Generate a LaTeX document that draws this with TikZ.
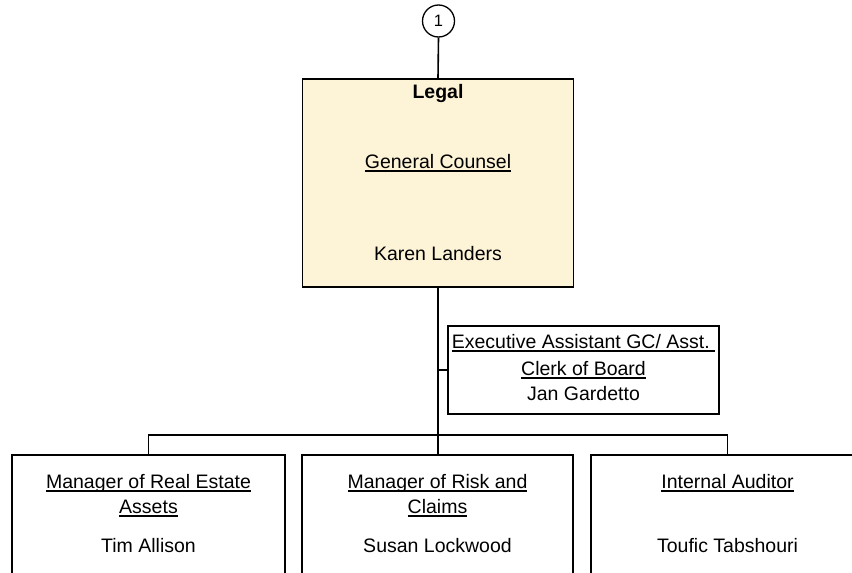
\documentclass[tikz,border=0pt]{standalone}
\usepackage{fontspec}
\setmainfont{Liberation Sans}
% underline at a fixed depth below the baseline
\newcommand\ulbox[1]{\setbox0\hbox{#1}\rlap{\rule[-3.6pt]{\wd0}{1.2pt}}\box0}
\definecolor{legalfill}{RGB}{253,243,214}
\tikzset{
  box/.style={draw=black, line width=1.6pt, rectangle, inner sep=0pt},
  wire/.style={draw=black, line width=1.6pt},
  txt/.style={anchor=base, inner sep=0pt, font=\fontsize{19.5}{23}\selectfont},
}
\begin{document}
\begin{tikzpicture}[x=1pt, y=-1pt]
\useasboundingbox (0,0) rectangle (852,573);
\clip (0,0) rectangle (852,573);
\fill[white] (0,0) rectangle (852,573);

% off-page connector
\node[draw=black, line width=1.3pt, circle, minimum size=32pt, inner sep=0pt,
      font=\fontsize{16.5}{18}\selectfont] (conn) at (438.5,21) {1};

% Legal department box
\node[box, fill=legalfill, minimum width=271pt, minimum height=208pt] (legal) at (438,183) {};
\node[txt, font=\fontsize{19.5}{23}\selectfont\bfseries] (legalt) at (438,98) {Legal};
\node[txt] (gc) at (438,168) {\ulbox{General Counsel}};
\node[txt] (kl) at (438,260) {Karen Landers};

% executive assistant box
\node[box, fill=white, minimum width=271pt, minimum height=88pt] (ea) at (583.5,370) {};
\node[txt] (ea1) at (583.5,348) {\ulbox{Executive Assistant GC/ Asst.\ }};
\node[txt] (ea2) at (583.5,375) {\ulbox{Clerk of Board}};
\node[txt] (ea3) at (583.5,400) {Jan Gardetto};

% direct reports (boxes run past the lower edge)
\node[box, fill=white, minimum width=273pt, minimum height=160pt, anchor=north] (m1) at (148.5,454) {};
\node[box, fill=white, minimum width=271pt, minimum height=160pt, anchor=north] (m2) at (437.5,454) {};
\node[box, fill=white, minimum width=273pt, minimum height=160pt, anchor=north] (m3) at (727.5,454) {};

\node[txt] (m1a) at (148.5,488) {\ulbox{Manager of Real Estate}};
\node[txt] (m1b) at (148.5,513) {\ulbox{Assets}};
\node[txt] (m1c) at (148.5,552) {Tim Allison};

\node[txt] (m2a) at (437.5,488) {\ulbox{Manager of Risk and}};
\node[txt] (m2b) at (437.5,513) {\ulbox{Claims}};
\node[txt] (m2c) at (437.5,552) {Susan Lockwood};

\node[txt] (m3a) at (727.5,488) {\ulbox{Internal Auditor}};
\node[txt] (m3c) at (727.5,552) {Toufic Tabshouri};

% connectors
\coordinate (bus) at (438,435);
\draw[wire] (conn.south) -- (legal.north);
\draw[wire] (legal.south) -- (bus);
\draw[wire] (ea.west) -- (ea.west -| legal.south);
\draw[wire] (bus) -| (m1.north);
\draw[wire] (bus) -| (m3.north);
\draw[wire] (bus) -- (bus |- m2.north);
\end{tikzpicture}
\end{document}
